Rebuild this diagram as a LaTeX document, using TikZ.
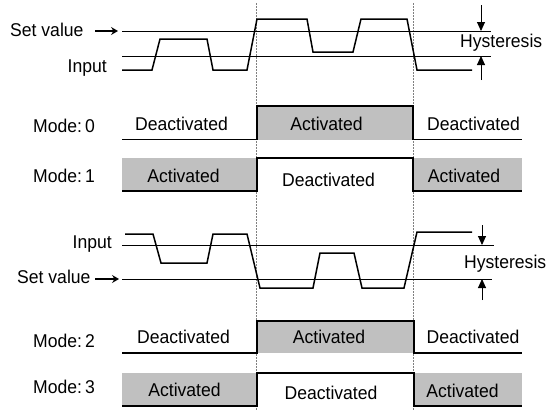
\documentclass[tikz,border=0pt]{standalone}
\usepackage{fontspec}
\setmainfont{Liberation Sans}
\newfontfamily\lblfont{Liberation Sans}[FakeStretch=0.95]
\usetikzlibrary{arrows.meta}
\definecolor{fillgray}{HTML}{C0C0C0}
\tikzset{
  lbl/.style={inner sep=0pt, font=\lblfont\fontsize{18.5}{21}\selectfont},
  wave/.style={line width=1.5pt, line join=miter},
  thr/.style={line width=0.7pt},
  modeline/.style={line width=1.4pt},
  guide/.style={gray, line width=0.8pt, dash pattern=on 1.6pt off 1.4pt},
  hyarrow/.style={line width=0.9pt, -{Triangle[length=9pt,width=8pt]}},
  setarrow/.style={line width=1.2pt, -{Stealth[length=7pt,width=8pt,inset=2.5pt]}},
}
\begin{document}
\begin{tikzpicture}[x=1pt,y=-1pt]
\useasboundingbox (0,0) rectangle (547,410);
% fills
\fill[fillgray] (257,106) rectangle (413,140);
\fill[fillgray] (122,158) rectangle (257,191);
\fill[fillgray] (413,158) rectangle (522,191);
\fill[fillgray] (257,321) rectangle (414,353);
\fill[fillgray] (122,373) rectangle (257,406);
\fill[fillgray] (414,373) rectangle (522,406);
% guides
\coordinate (g1t) at (256.5,3); \coordinate (g1b) at (256.5,410);
\coordinate (g2t) at (413.5,3); \coordinate (g2b) at (413.5,410);
\draw[guide] (g1t) -- (g1b);
\draw[guide] (g2t) -- (g2b);
% ---- top panel ----
\draw[thr] (122,31) -- (491,31);
\draw[thr] (122,56) -- (491,56);
\draw[wave] (122,70) -- (152,70) -- (160,39) -- (207,39) -- (213,70) -- (247,70)
  -- (257,19) -- (307,19) -- (313,52) -- (353,52) -- (361,19) -- (407,19)
  -- (417,70) -- (472,70);
\node[lbl, anchor=base west] (sv1) at (10,36.5) {Set value};
\coordinate (sa1s) at (95,31); \coordinate (sa1e) at (118,31);
\draw[setarrow] (sa1s) -- (sa1e);
\node[lbl, anchor=base east] (in1) at (107,72) {Input};
\coordinate (h1a) at (481,5); \coordinate (h1b) at (481,31);
\coordinate (h1c) at (481,80); \coordinate (h1d) at (481,56);
\draw[hyarrow] (h1a) -- (h1b);
\draw[hyarrow] (h1c) -- (h1d);
\node[lbl, anchor=base west] (hy1) at (460,47) {Hysteresis};
% ---- mode 0 / 1 ----
\draw[modeline] (122,139.5) -- (257,139.5) -- (257,106) -- (413,106) -- (413,139.5) -- (522,139.5);
\draw[modeline] (122,191) -- (257,191) -- (257,158) -- (413,158) -- (413,191) -- (522,191);
\node[lbl, anchor=base west] (m0) at (33,132.5) {Mode:\,0};
\node[lbl, anchor=base west] (m1) at (33,182.5) {Mode:\,1};
\node[lbl, anchor=base] (m0a) at (181.5,130) {Deactivated};
\node[lbl, anchor=base] (m0b) at (326.5,130) {Activated};
\node[lbl, anchor=base] (m0c) at (473.5,130) {Deactivated};
\node[lbl, anchor=base] (m1a) at (183.5,182) {Activated};
\node[lbl, anchor=base] (m1b) at (328.5,186) {Deactivated};
\node[lbl, anchor=base] (m1c) at (464,182.5) {Activated};
% ---- bottom panel ----
\draw[thr] (122,245) -- (494,245);
\draw[thr] (122,279) -- (492,279);
\draw[wave] (125,234) -- (153,234) -- (161,263) -- (207,263) -- (213,234) -- (247,234)
  -- (260,288) -- (313,288) -- (320,253) -- (354,253) -- (362,288) -- (404,288)
  -- (417,232) -- (472,232);
\node[lbl, anchor=base east] (in2) at (112,248) {Input};
\node[lbl, anchor=base west] (sv2) at (17,283) {Set value};
\coordinate (sa2s) at (95,279); \coordinate (sa2e) at (119,279);
\draw[setarrow] (sa2s) -- (sa2e);
\coordinate (h2a) at (482,225); \coordinate (h2b) at (482,245);
\coordinate (h2c) at (482,300); \coordinate (h2d) at (482,279);
\draw[hyarrow] (h2a) -- (h2b);
\draw[hyarrow] (h2c) -- (h2d);
\node[lbl, anchor=base west] (hy2) at (464,268) {Hysteresis};
% ---- mode 2 / 3 ----
\draw[modeline] (122,353) -- (257,353) -- (257,321) -- (414,321) -- (414,353) -- (522,353);
\draw[modeline] (122,406) -- (257,406) -- (257,373) -- (414,373) -- (414,406) -- (522,406);
\node[lbl, anchor=base west] (m2) at (33,347.5) {Mode:\,2};
\node[lbl, anchor=base west] (m3) at (33,393) {Mode:\,3};
\node[lbl, anchor=base] (m2a) at (183.5,343) {Deactivated};
\node[lbl, anchor=base] (m2b) at (329,343) {Activated};
\node[lbl, anchor=base] (m2c) at (473,343) {Deactivated};
\node[lbl, anchor=base] (m3a) at (184.5,396.5) {Activated};
\node[lbl, anchor=base] (m3b) at (331,399.5) {Deactivated};
\node[lbl, anchor=base] (m3c) at (462.5,397) {Activated};
\end{tikzpicture}
\end{document}
